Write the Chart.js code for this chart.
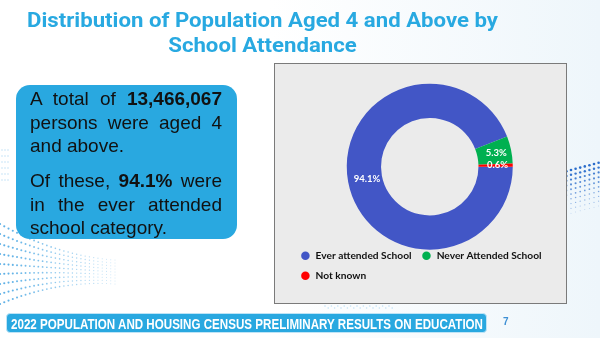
<!DOCTYPE html>
<html>
<head>
<meta charset="utf-8">
<script src="https://cdn.jsdelivr.net/npm/chart.js@4/dist/chart.umd.min.js"></script>
<style>
  html, body { margin: 0; padding: 0; }
  body {
    width: 600px; height: 338px; position: relative; overflow: hidden;
    background: linear-gradient(90deg, #ffffff 0%, #ffffff 45%, #eef6fb 100%);
    font-family: "Liberation Sans", Arial, sans-serif;
  }
  #deco { position: absolute; left: 0; top: 0; }
  .title {
    position: absolute; left: 0; top: 7.5px; width: 525px;
    text-align: center; color: #28a9e1;
    font: 700 19.5px/25px Roboto, sans-serif;
    transform-origin: 50% 50%;
  }
  .note {
    position: absolute; left: 16px; top: 85px; width: 221px; height: 154px;
    box-sizing: border-box; padding: 2px 15px 0 14px;
    background: #29a8e0; border-radius: 14px; color: #111;
    font-size: 19px; line-height: 23.5px; text-align: justify;
  }
  .note p { margin: 0 0 11.5px 0; }
  .panel {
    position: absolute; left: 274px; top: 63px; width: 293px; height: 241px;
    box-sizing: border-box; background: #ebebeb; border: 1.5px solid #7a7a7a;
  }
  .chart-box { position: absolute; left: 272px; top: 64px; width: 300px; height: 238px; }
  .banner {
    position: absolute; left: 6px; top: 313px; width: 481px; height: 20px;
    box-sizing: border-box; background: #29a8e0; border: 1px solid #bfe4f6;
    border-radius: 4px; overflow: hidden;
  }
  .banner span {
    position: absolute; left: 4px; top: 1px; white-space: nowrap; color: #fff;
    font: 700 15px/17px "Liberation Sans Narrow", "Liberation Sans", Arial, sans-serif;
    transform-origin: 0 50%;
  }
  .page-no {
    position: absolute; left: 503px; top: 315px; color: #3d8fd4;
    font: 700 10px/14px "Liberation Sans", Arial, sans-serif;
  }
</style>
</head>
<body>
<canvas id="deco" width="600" height="338"></canvas>

<div class="title" id="title">Distribution of Population Aged 4 and Above by<br>School Attendance</div>

<div class="note">
  <p>A total of <b>13,466,067</b> persons were aged 4 and above.</p>
  <p>Of these, <b>94.1%</b> were in the ever attended school category.</p>
</div>

<div class="panel"></div>
<div class="chart-box"><canvas id="attendanceChart"></canvas></div>

<div class="banner"><span id="bannerText">2022 POPULATION AND HOUSING CENSUS PRELIMINARY RESULTS ON EDUCATION</span></div>
<div class="page-no">7</div>

<script>
// school attendance, persons aged 4 and above (%)
var categories = ["Ever attended School", "Never Attended School", "Not known"];
var shares = [94.1, 5.3, 0.6];
var sliceColors = ['#4256c6', '#00b050', '#ff0000'];

// halftone dot swirls in the background
function drawDeco() {
    var ctx = document.getElementById('deco').getContext('2d');
    // bottom left sweep
    for (var k = 0; k < 9; k++) {
        for (var i = 0; i < 28; i++) {
            var t = i / 27;
            var x = t * 115;
            var y0 = 224 + k * 10;
            var y = y0 + (1 - (1 - t) * (1 - t)) * (28 - k * 7) + t * 8;
            var r = 1.1 - t * 0.6;
            ctx.fillStyle = 'rgba(60,160,225,' + (0.85 - t * 0.6) + ')';
            ctx.beginPath();
            ctx.arc(x, y, r, 0, Math.PI * 2);
            ctx.fill();
        }
    }
    // faint dots along the left edge
    for (var j = 0; j < 6; j++) {
        for (var m = 0; m < 3; m++) {
            ctx.fillStyle = 'rgba(80,170,230,0.35)';
            ctx.beginPath();
            ctx.arc(2 + m * 3, 150 + j * 6, 0.8, 0, Math.PI * 2);
            ctx.fill();
        }
    }
    // right side block
    for (var row = 0; row < 10; row++) {
        for (var col = 0; col < 12; col++) {
            var px = 548 + col * 4.6;
            var py = 176 - col * 1.2 + row * 4.8;
            var rr = 1.3 - row * 0.09;
            ctx.fillStyle = 'rgba(30,100,200,' + (0.95 - row * 0.07) + ')';
            ctx.beginPath();
            ctx.arc(px, py, rr, 0, Math.PI * 2);
            ctx.fill();
        }
    }
    // under the panel
    for (var q = 0; q < 22; q++) {
        ctx.fillStyle = 'rgba(90,175,230,0.35)';
        ctx.beginPath();
        ctx.arc(325 + q * 3.2, 306 + (q % 2) * 2, 0.8, 0, Math.PI * 2);
        ctx.fill();
    }
}

// percentage labels on the ring
var sliceLabels = {
    id: 'sliceLabels',
    afterDatasetsDraw: function (chart) {
        var ctx = chart.ctx;
        var meta = chart.getDatasetMeta(0);
        ctx.save();
        ctx.font = '700 9.5px Lato';
        ctx.fillStyle = '#ffffff';
        ctx.textAlign = 'center';
        ctx.textBaseline = 'middle';
        meta.data.forEach(function (arc, i) {
            var p = arc.tooltipPosition();
            ctx.fillText(shares[i].toFixed(1) + '%', p.x + 2, p.y);
        });
        ctx.restore();
    }
};

function drawChart() {
    var canvas = document.getElementById('attendanceChart').getContext('2d');
    new Chart(canvas, {
        type: 'doughnut',
        data: {
            labels: categories,
            datasets: [{
                data: shares,
                backgroundColor: sliceColors,
                borderWidth: 0
            }]
        },
        options: {
            responsive: true,
            maintainAspectRatio: false,
            animation: false,
            events: [],
            rotation: 90,
            radius: 83,
            cutout: '58.7%',
            layout: {
                padding: { left: 18.5, right: 3, top: 28.6, bottom: 11.25 }
            },
            plugins: {
                tooltip: { enabled: false },
                legend: {
                    position: 'bottom',
                    align: 'start',
                    labels: {
                        usePointStyle: true,
                        pointStyle: 'circle',
                        boxHeight: 6,
                        padding: 9.8,
                        color: '#111111',
                        font: { family: 'Lato', weight: 'bold', size: 10.2 }
                    }
                }
            }
        },
        plugins: [sliceLabels]
    });
}

function fitText() {
    var span = document.getElementById('bannerText');
    var w = span.getBoundingClientRect().width;
    span.style.transform = 'scaleX(' + (472 / w) + ')';

    // stretch the heading so its first line runs 471px wide
    var title = document.getElementById('title');
    var probe = document.createElement('span');
    probe.textContent = 'Distribution of Population Aged 4 and Above by';
    probe.style.font = '700 19.5px Roboto';
    probe.style.position = 'absolute';
    probe.style.whiteSpace = 'nowrap';
    probe.style.visibility = 'hidden';
    document.body.appendChild(probe);
    var tw = probe.getBoundingClientRect().width;
    document.body.removeChild(probe);
    title.style.transform = 'scaleX(' + (471 / tw) + ')';
}

drawDeco();
Promise.all([
    document.fonts.load('700 10px Lato'),
    document.fonts.load('700 19px Roboto'),
    document.fonts.load('700 15px "Liberation Sans Narrow"'),
    document.fonts.load('700 15px "Liberation Sans"')
]).then(function () {
    fitText();
    drawChart();
});
</script>
</body>
</html>
